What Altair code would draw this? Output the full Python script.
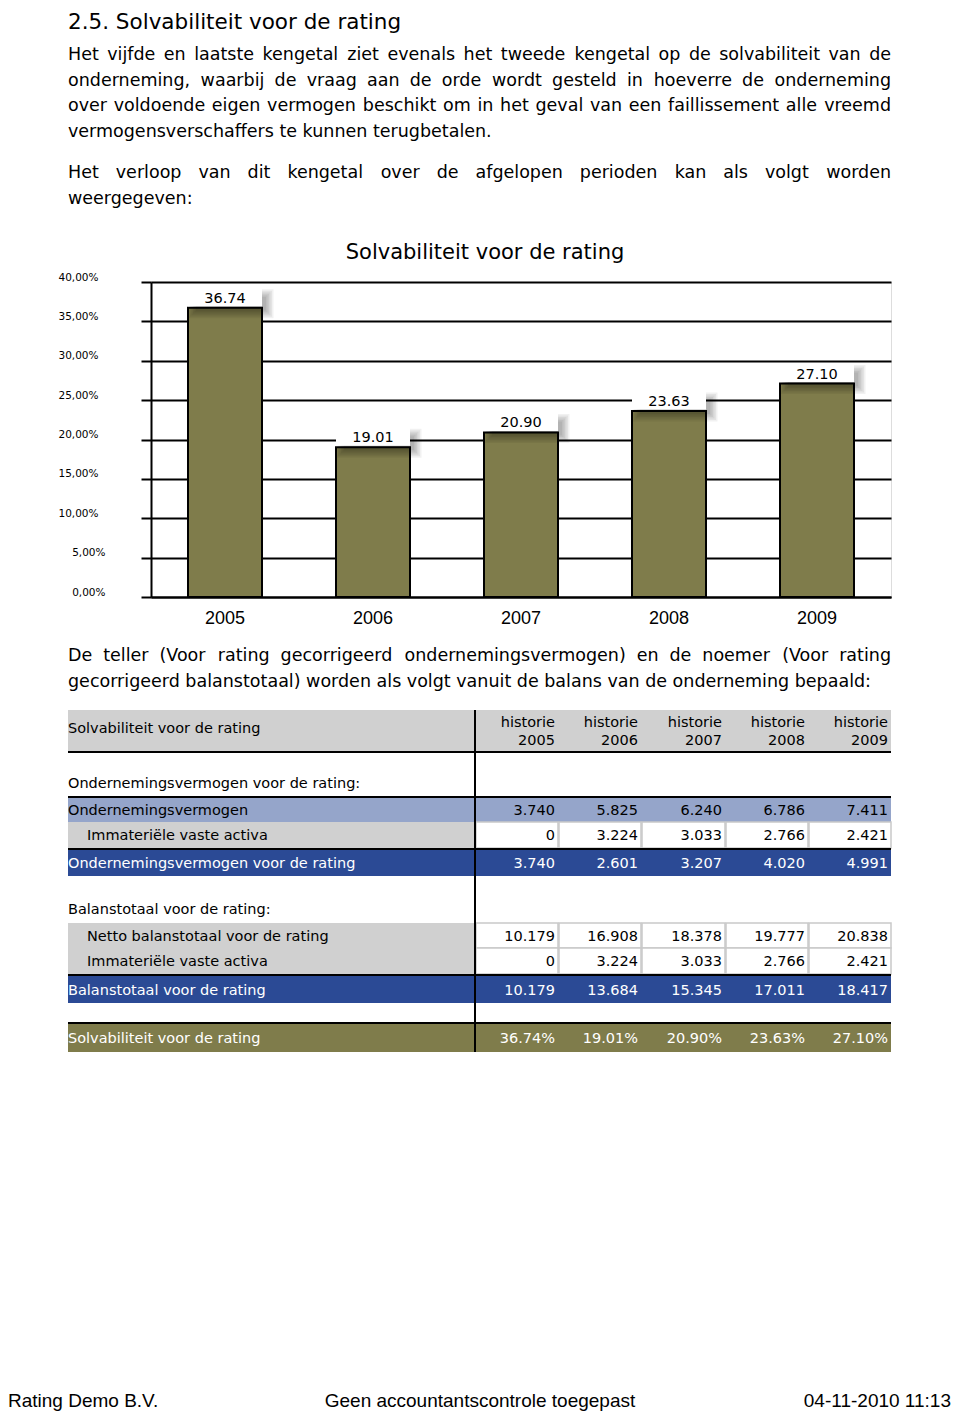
import altair as alt
import pandas as pd

# ------------------------------------------------------------------ data
years = ["2005", "2006", "2007", "2008", "2009"]
solvabiliteit = [36.74, 19.01, 20.90, 23.63, 27.10]
y_ticks = [0, 5, 10, 15, 20, 25, 30, 35, 40]

ondernemingsvermogen = [3740, 5825, 6240, 6786, 7411]
immateriele_activa = [0, 3224, 3033, 2766, 2421]
ondernemingsvermogen_rating = [3740, 2601, 3207, 4020, 4991]
netto_balanstotaal = [10179, 16908, 18378, 19777, 20838]
balanstotaal_rating = [10179, 13684, 15345, 17011, 18417]

heading = "2.5. Solvabiliteit voor de rating"
paragraph1 = [
    "Het vijfde en laatste kengetal ziet evenals het tweede kengetal op de solvabiliteit van de",
    "onderneming, waarbij de vraag aan de orde wordt gesteld in hoeverre de onderneming",
    "over voldoende eigen vermogen beschikt om in het geval van een faillissement alle vreemd",
    "vermogensverschaffers te kunnen terugbetalen.",
]
paragraph2 = [
    "Het verloop van dit kengetal over de afgelopen perioden kan als volgt worden",
    "weergegeven:",
]
paragraph3 = [
    "De teller (Voor rating gecorrigeerd ondernemingsvermogen) en de noemer (Voor rating",
    "gecorrigeerd balanstotaal) worden als volgt vanuit de balans van de onderneming bepaald:",
]
chart_title = "Solvabiliteit voor de rating"
table_title = "Solvabiliteit voor de rating"
col_header = "historie"
section1 = "Ondernemingsvermogen voor de rating:"
section2 = "Balanstotaal voor de rating:"
row_labels = [
    "Ondernemingsvermogen",
    "Immateriële vaste activa",
    "Ondernemingsvermogen voor de rating",
    "Netto balanstotaal voor de rating",
    "Immateriële vaste activa",
    "Balanstotaal voor de rating",
    "Solvabiliteit voor de rating",
]
footer_left = "Rating Demo B.V."
footer_mid = "Geen accountantscontrole toegepast"
footer_right = "04-11-2010 11:13"

# ------------------------------------------------------------------ styles / layout
FONT = "DejaVu Sans"
FONT2 = "Liberation Sans"
OLIVE = "#7f7c4b"
GRAY = "#d0d0d0"
LIGHTBLUE = "#95a5ca"
DARKBLUE = "#2b4a95"
CELLLINE = "#c9c9c9"

OX, OY = 151, 282  # page position of the plot origin


def px(v):
    return v - OX


def py(v):
    return v - OY


def nl(v):
    return f"{v:,}".replace(",", ".")


# DejaVu Sans advance widths (units of 2048) for justification
W = {" ": 651, ",": 651, ".": 651, ":": 690, "(": 799, ")": 799, "-": 739,
     "a": 1255, "b": 1300, "c": 1126, "d": 1300, "e": 1260, "f": 721, "g": 1300,
     "h": 1298, "i": 569, "j": 569, "k": 1186, "l": 569, "m": 1995, "n": 1298,
     "o": 1253, "p": 1300, "q": 1300, "r": 842, "s": 1067, "t": 803, "u": 1298,
     "v": 1212, "w": 1675, "x": 1212, "y": 1212, "z": 1075,
     "D": 1577, "H": 1540, "V": 1401, "S": 1300, "O": 1612, "B": 1405}


def wwidth(word, size):
    return sum(W.get(c, 1250) for c in word) / 2048 * size


LEFT_ITEMS, RIGHT_ITEMS, CENTER_ITEMS, FOOT_ITEMS = [], [], [], []


def add(lst, t, x, y, s, c="black"):
    lst.append({"t": t, "x": px(x), "y": py(y), "s": s, "c": c})


def para_line(line, y, size, justify, left=68, right=891):
    if not justify:
        add(LEFT_ITEMS, line, left, y, size)
        return
    words = line.split()
    ws = [wwidth(w, size) for w in words]
    gap = (right - left - sum(ws)) / (len(words) - 1)
    x = left
    for w, wd in zip(words, ws):
        if x + wd / 2 < (left + right) / 2:
            add(LEFT_ITEMS, w, x, y, size)
        else:
            add(RIGHT_ITEMS, w, x + wd, y, size)
        x += wd + gap


add(LEFT_ITEMS, heading, 68, 28.5, 21.5)
for i, line in enumerate(paragraph1):
    para_line(line, 60 + i * 25.7, 17.5, i < len(paragraph1) - 1)
for i, line in enumerate(paragraph2):
    para_line(line, 178 + i * 25.7, 17.5, i < len(paragraph2) - 1)
for i, line in enumerate(paragraph3):
    para_line(line, 661 + i * 25.7, 17.5, i < len(paragraph3) - 1)

# chart title (as text, centred over the drawing like the original)
add(CENTER_ITEMS, chart_title, 485, 259, 21)

# ---- table layout
col_edges = [475, 558, 641, 725, 808, 891]
TL, TR = 68, 891
rects, boxes, rules = [], [], []
rects.append({"x": px(TL), "x2": px(TR), "y": py(710), "y2": py(752), "f": GRAY})
add(LEFT_ITEMS, table_title, TL, 733, 14.5)
for j, yr in enumerate(years):
    add(RIGHT_ITEMS, col_header, col_edges[j + 1] - 3, 727, 14.5)
    add(RIGHT_ITEMS, yr, col_edges[j + 1] - 3, 745, 14.5)
add(LEFT_ITEMS, section1, TL, 788, 14.5)
add(LEFT_ITEMS, section2, TL, 914, 14.5)

row_values = [
    [nl(v) for v in ondernemingsvermogen],
    [nl(v) for v in immateriele_activa],
    [nl(v) for v in ondernemingsvermogen_rating],
    [nl(v) for v in netto_balanstotaal],
    [nl(v) for v in immateriele_activa],
    [nl(v) for v in balanstotaal_rating],
    [f"{v:.2f}%" for v in solvabiliteit],
]
row_style = ["light", "boxed", "dark", "boxed", "boxed", "dark", "olive"]
row_indent = [0, 1, 0, 1, 1, 0, 0]
row_span = [(798, 822), (822, 848), (850, 876), (923, 948), (948, 974), (976, 1003), (1024, 1052)]
for lab, vals, sty, ind, (y0, y1) in zip(row_labels, row_values, row_style, row_indent, row_span):
    txtc = "white" if sty in ("dark", "olive") else "black"
    if sty == "boxed":
        rects.append({"x": px(TL), "x2": px(col_edges[0] - 1), "y": py(y0), "y2": py(y1), "f": GRAY})
        for j in range(5):
            boxes.append({"x": px(col_edges[j] + 1), "x2": px(col_edges[j + 1]), "y": py(y0), "y2": py(y1)})
    else:
        f = {"light": LIGHTBLUE, "dark": DARKBLUE, "olive": OLIVE}[sty]
        rects.append({"x": px(TL), "x2": px(TR), "y": py(y0), "y2": py(y1), "f": f})
    yc = (y0 + y1) / 2 + 5
    add(LEFT_ITEMS, lab, TL + 19 * ind, yc, 14.5, txtc)
    for j, v in enumerate(vals):
        add(RIGHT_ITEMS, v, col_edges[j + 1] - 3, yc, 14.5, txtc)

for yl in [752, 797, 849, 975, 1023]:
    rules.append({"x": px(TL), "x2": px(TR), "y": py(yl), "y2": py(yl)})
rules.append({"x": px(475), "x2": px(475), "y": py(710), "y2": py(1052)})

# footer
FOOT_Y = 1406.5
FOOT_ITEMS.append({"t": footer_left, "x": px(8), "y": py(FOOT_Y), "s": 19, "c": "black", "a": "left"})
FOOT_ITEMS.append({"t": footer_mid, "x": px(480), "y": py(FOOT_Y), "s": 19, "c": "black", "a": "center"})
FOOT_ITEMS.append({"t": footer_right, "x": px(951), "y": py(FOOT_Y), "s": 19, "c": "black", "a": "right"})


def text_layer(items, align, font):
    return alt.Chart(pd.DataFrame(items)).mark_text(align=align, baseline="alphabetic", font=font).encode(
        x=alt.X("x:Q", scale=None),
        y=alt.Y("y:Q", scale=None),
        text="t:N",
        size=alt.Size("s:Q", scale=None),
        color=alt.Color("c:N", scale=None),
    )


# ------------------------------------------------------------------ bar chart
bars_df = pd.DataFrame({"jaar": years, "solv": solvabiliteit})
base = alt.Chart(bars_df)
xenc = alt.X(
    "jaar:N", sort=years, title=None,
    scale=alt.Scale(paddingInner=0.5, paddingOuter=0.25),
    axis=alt.Axis(labelAngle=0, labelFont=FONT2, labelFontSize=18, labelColor="black",
                  labelPadding=12, ticks=False, tickSize=0, grid=False,
                  domain=True, domainColor="black", domainWidth=2),
)
yenc = alt.Y(
    "solv:Q", title=None,
    scale=alt.Scale(domain=[0, 40], nice=False, zero=True),
    axis=alt.Axis(values=y_ticks, tickCount=9, labelOverlap=False,
                  labelExpr="replace(format(datum.value, '.2f'), '.', ',') + '%'",
                  labelFont=FONT, labelFontSize=10.5, labelColor="black",
                  labelPadding={"condition": {"test": "datum.value < 10", "value": 36}, "value": 43},
                  labelOffset=-5,
                  tickSize=10, tickWidth=2, tickColor="black",
                  grid=True, gridColor="black", gridWidth=2, gridOpacity=1,
                  domain=True, domainColor="black", domainWidth=2),
)
bars = base.mark_bar(fill=OLIVE, stroke="black", strokeWidth=2).encode(x=xenc, y=yenc)
# soft drop shadow of the value boxes (stacked translucent ticks)
shadows = [
    base.mark_tick(color="black", opacity=0.055, thickness=14 + k, size=70 + k,
                   xOffset=6, yOffset=-4).encode(x=xenc, y=yenc)
    for k in (0, 3, 6, 9, 12, 15)
]
label_boxes = base.mark_tick(color="white", thickness=18, size=74, yOffset=-10.5, opacity=1).encode(
    x=xenc, y=yenc)
bar_labels = base.mark_text(font=FONT, fontSize=14.5, baseline="alphabetic", dy=-5, color="black").encode(
    x=xenc, y=yenc, text=alt.Text("solv:Q", format=".2f"))
bar_group = alt.layer(bars, *shadows, label_boxes, bar_labels)

# ------------------------------------------------------------------ table marks
rect_layer = alt.Chart(pd.DataFrame(rects)).mark_rect().encode(
    x=alt.X("x:Q", scale=None), x2="x2:Q", y=alt.Y("y:Q", scale=None), y2="y2:Q",
    fill=alt.Fill("f:N", scale=None))
box_layer = alt.Chart(pd.DataFrame(boxes)).mark_rect(fill="white", stroke=CELLLINE, strokeWidth=1.5).encode(
    x=alt.X("x:Q", scale=None), x2="x2:Q", y=alt.Y("y:Q", scale=None), y2="y2:Q")
rule_layer = alt.Chart(pd.DataFrame(rules)).mark_rule(color="black", strokeWidth=2).encode(
    x=alt.X("x:Q", scale=None), x2="x2:Q", y=alt.Y("y:Q", scale=None), y2="y2:Q")

foot_df = pd.DataFrame(FOOT_ITEMS)
foot_layers = [text_layer(foot_df[foot_df.a == a].drop(columns="a").to_dict("records"), a, FONT2)
               for a in ["left", "center", "right"]]

chart = alt.layer(
    bar_group,
    rect_layer, box_layer, rule_layer,
    text_layer(LEFT_ITEMS, "left", FONT),
    text_layer(RIGHT_ITEMS, "right", FONT),
    text_layer(CENTER_ITEMS, "center", FONT),
    *foot_layers,
).properties(
    width=740, height=315,
    padding={"left": 143, "top": 274, "right": 61, "bottom": 814},
    autosize=alt.AutoSizeParams(type="none"),
).configure_view(stroke="black", strokeWidth=2).configure(background="white")

chart.save("out.html", embed_options={"renderer": "svg", "actions": False})
